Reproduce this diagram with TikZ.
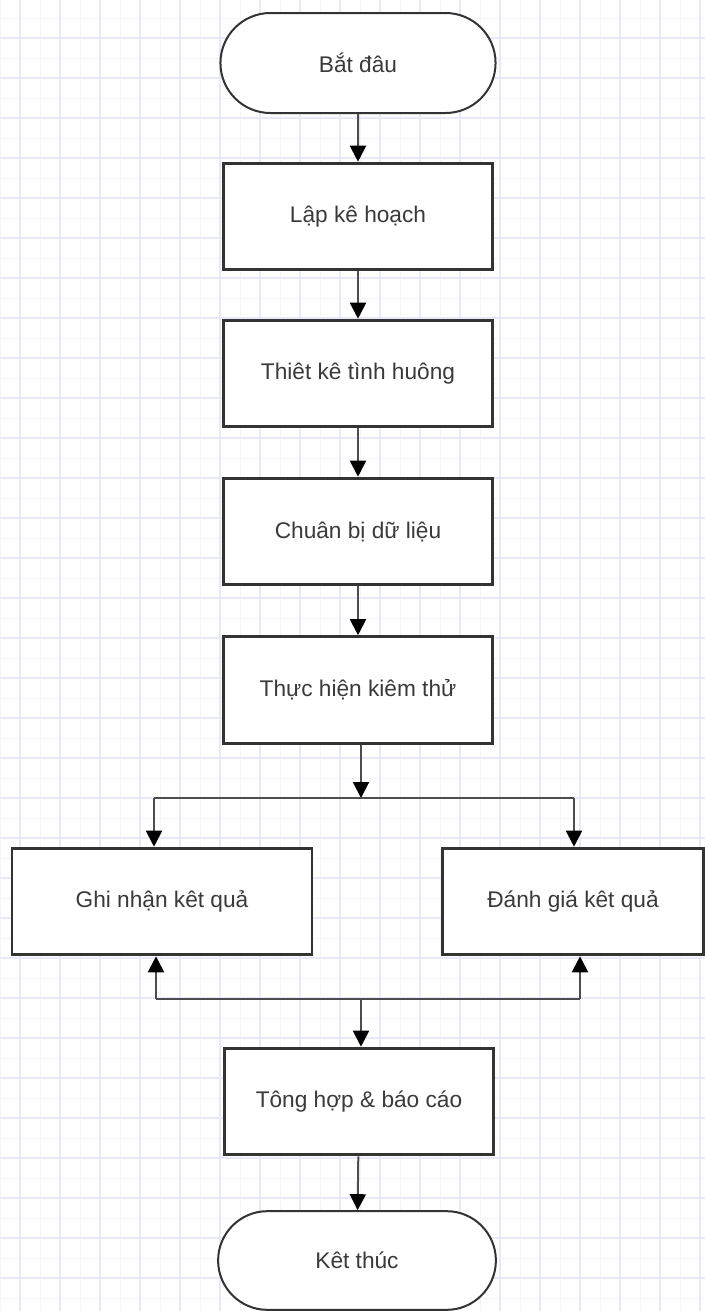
\documentclass[tikz,border=0pt]{standalone}
\usepackage{fontspec}
\setmainfont{Liberation Sans}
\usepackage{tikz}
\usetikzlibrary{arrows.meta,shapes.misc}
\definecolor{ink}{HTML}{333333}
\definecolor{wire}{HTML}{4D4D4D}
\definecolor{txt}{HTML}{3A3A3A}
\definecolor{gridmin}{HTML}{F4F4FF}
\definecolor{gridmaj}{HTML}{E8E8FB}
\tikzset{
  term/.style={draw=ink, line width=1.5pt, rounded rectangle, fill=white,
    minimum width=213pt, minimum height=75pt, text=txt, font=\fontsize{17}{20}\selectfont},
  box/.style={draw=ink, line width=2.2pt, rectangle, fill=white,
    minimum width=202pt, minimum height=80pt, text=txt, font=\fontsize{17}{20}\selectfont},
  flow/.style={draw=wire, line width=1.5pt, -{Triangle[length=12pt,width=12pt,color=black]}},
  plain/.style={draw=wire, line width=1.5pt},
  gmin/.style={draw=gridmin, line width=0.75pt},
  gmaj/.style={draw=gridmaj, line width=0.9pt},
}

\begin{document}
\begin{tikzpicture}[x=0.75pt,y=-0.75pt]
  % page and grid
  \fill[white] (0,0) rectangle (705,1311);
  \useasboundingbox (0,0) rectangle (705,1311);
  \foreach \gx in {0,20,...,700} \draw[gmin] (\gx,0) -- (\gx,1311);
  \foreach \gy in {18,38,...,1310} \draw[gmin] (0,\gy) -- (705,\gy);
  \foreach \gx in {20,60,...,700} \draw[gmaj] (\gx,0) -- (\gx,1311);
  \foreach \gy in {38,78,...,1310} \draw[gmaj] (0,\gy) -- (705,\gy);

  % main column
  \node[term] (start)  at (358,63)     {Bắt đâu};
  \node[box]  (plan)   at (358,216.5)  {Lập kê hoạch};
  \node[box]  (design) at (358,373.5)  {Thiêt kê tình huông};
  \node[box]  (data)   at (358,531.5)  {Chuân bị dữ liệu};
  \node[box]  (exec)   at (358,690)    {Thực hiện kiêm thử};
  \node[box,minimum width=225pt] (record) at (162,901.5) {Ghi nhận kêt quả};
  \node[box,minimum width=196pt] (eval)   at (573,901.5) {Đánh giá kêt quả};
  \node[box]  (report) at (359,1101.5) {Tông hợp \& báo cáo};
  \node[term,minimum width=215pt,minimum height=74pt] (stop) at (357,1260.5) {Kêt thúc};

  \draw[flow] (start) -- (plan);
  \draw[flow] (plan) -- (design);
  \draw[flow] (design) -- (data);
  \draw[flow] (data) -- (exec);

  % split
  \coordinate (split)  at (361,798);
  \coordinate (splitL) at (154,798);
  \coordinate (splitR) at (574,798);
  \draw[flow] (exec.south -| split) -- (split);
  \draw[plain] (splitL) -- (splitR);
  \draw[flow] (splitL) -- (splitL |- record.north);
  \draw[flow] (splitR) -- (splitR |- eval.north);

  % merge
  \coordinate (merge)  at (361,999);
  \coordinate (mergeL) at (156,999);
  \coordinate (mergeR) at (580,999);
  \draw[plain] (mergeL) -- (mergeR);
  \draw[flow] (mergeL) -- (mergeL |- record.south);
  \draw[flow] (mergeR) -- (mergeR |- eval.south);
  \draw[flow] (merge) -- (merge |- report.north);

  \draw[flow] (report) -- (stop);
\end{tikzpicture}
\end{document}
